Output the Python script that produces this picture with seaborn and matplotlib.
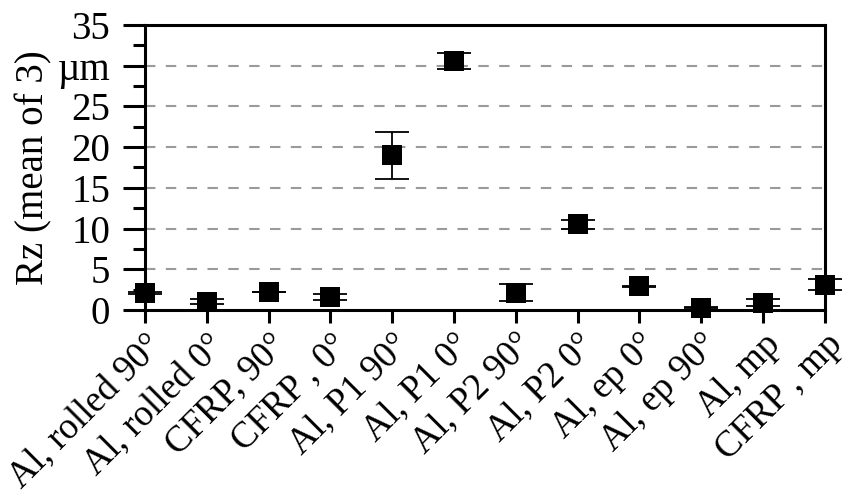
import numpy as np
import pandas as pd
import seaborn as sns
import matplotlib.pyplot as plt
import matplotlib.transforms as mtransforms
from matplotlib.ticker import MultipleLocator

# data
samples = ['Al, rolled 90°', 'Al, rolled 0°', 'CFRP, 90°', 'CFRP , 0°',
           'Al, P1 90°', 'Al, P1 0°', 'Al, P2 90°', 'Al, P2 0°',
           'Al, ep 0°', 'Al, ep 90°', 'Al, mp', 'CFRP , mp']
rz_mean = [2.1, 1.0, 2.2, 1.6, 19.0, 30.6, 2.1, 10.5, 2.9, 0.3, 0.9, 3.1]
rz_err = [0.1, 0.3, 0.05, 0.35, 2.9, 1.0, 1.05, 0.5, 0.1, 0.05, 0.4, 0.7]
y_ticks = [0, 5, 10, 15, 20, 25, 30, 35]
y_ticklabels = ['0', '5', '10', '15', '20', '25', 'µm', '35']

df = pd.DataFrame({'sample': samples, 'rz': rz_mean, 'err': rz_err})

sns.set_style('white')
plt.rcParams['font.family'] = ['Liberation Serif', 'DejaVu Serif']
plt.rcParams.update({'text.color': 'black', 'axes.labelcolor': 'black',
                     'xtick.color': 'black', 'ytick.color': 'black'})

fig = plt.figure(figsize=(8.61, 4.96), dpi=100)
ax = fig.add_axes([0.1684, 0.375, 0.958 - 0.1684, 0.5746])

# dashed grid lines
for y in y_ticks[1:-1]:
    ax.axhline(y, color='#9a9a9a', lw=1.5, ls=(0, (5, 5)), zorder=0)

x = np.arange(len(samples))
ax.errorbar(x, df['rz'], yerr=df['err'], fmt='none', ecolor='black',
            elinewidth=1.3, capsize=12, capthick=1.3, zorder=3, clip_on=False)
sns.scatterplot(data=df, x='sample', y='rz', marker='s', s=215, color='black',
                edgecolor='black', linewidth=0, ax=ax, zorder=4, clip_on=False)

ax.set_xlim(0, len(samples) - 1)
ax.set_ylim(0, 35)
ax.set_yticks(y_ticks)
ax.set_yticklabels(y_ticklabels, fontsize=28)
ax.yaxis.set_minor_locator(MultipleLocator(2.5))
ax.set_xticks(x)
ax.set_xticklabels(samples, fontsize=26.5, rotation=45, ha='right', va='top',
                   rotation_mode='anchor')
offset = mtransforms.ScaledTranslation(30 / 100, 5 / 100, fig.dpi_scale_trans)
for lab in ax.get_xticklabels():
    lab.set_transform(lab.get_transform() + offset)

ax.set_xlabel('')
ax.set_ylabel('Rz (mean of 3)', fontsize=28, labelpad=4)

ax.tick_params(axis='y', which='major', direction='out', length=16, width=2.2, pad=9, left=True)
ax.tick_params(axis='y', which='minor', direction='out', length=9, width=2.2, left=True)
ax.tick_params(axis='x', which='major', direction='out', length=9, width=2.2, bottom=True)

for side in ['left', 'right', 'top', 'bottom']:
    ax.spines[side].set_visible(True)
    ax.spines[side].set_color('black')
    ax.spines[side].set_linewidth(2.2)

fig.savefig('out.png', dpi=100)
